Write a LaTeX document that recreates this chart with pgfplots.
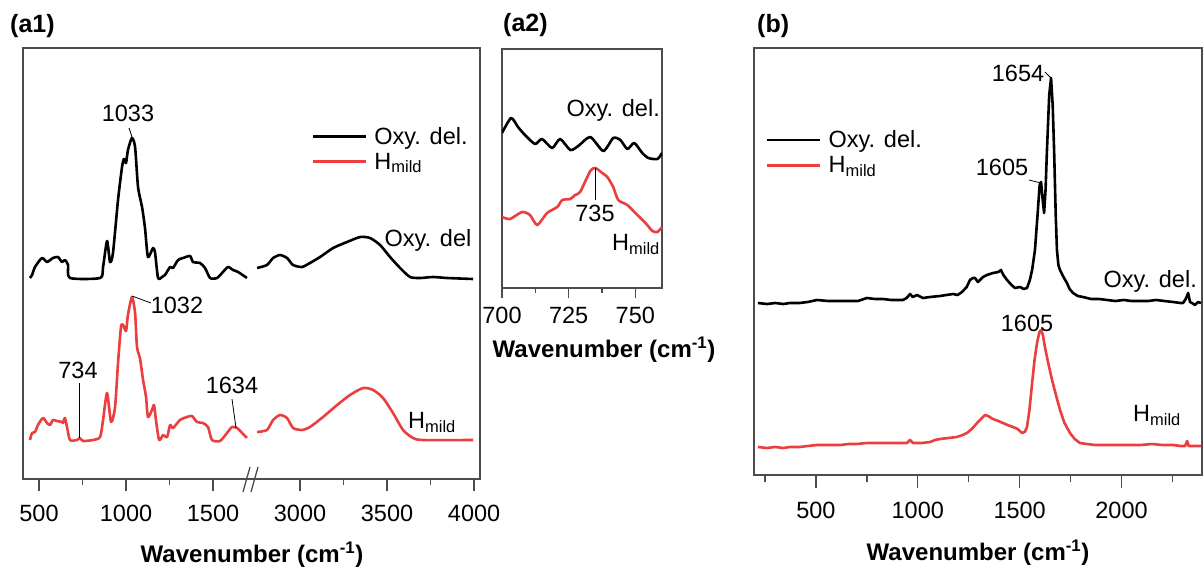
\documentclass[border=0pt]{standalone}
\usepackage{fontspec}
\setmainfont{Liberation Sans}
\usepackage{pgfplots}
\pgfplotsset{compat=1.18}
\definecolor{hred}{RGB}{236,62,62}
\newcommand\fs{\fontsize{23.5}{28}\selectfont}
\newcommand\fb{\fontsize{24}{28}\selectfont\bfseries}
\newcommand\hmild{H\textsubscript{mild}}
\newcommand\wnum{\fb Wavenumber (cm\textsuperscript{-1})}

\pgfplotsset{
  spec/.style={
    scale only axis,
    anchor=north west,
    ytick=\empty,
    axis line style={black!70, line width=1.3pt},
    tick style={black!70, line width=1.3pt},
    tick align=outside,
    xtick pos=bottom,
    major tick length=12pt,
    minor tick length=6pt,
    xticklabel style={font=\fs, inner sep=0pt, anchor=north},
    xticklabel shift=13.6pt,
    legend cell align=left,
    legend image code/.code={\draw[##1] (0pt,0pt) -- (53pt,0pt);},
    legend style={draw=none, fill=none, font=\fs, inner sep=0pt,
      outer sep=0pt, row sep=7pt, column sep=7pt,
      nodes={inner sep=0pt}},
  },
  oxy/.style={black, line width=2.6pt, line join=round},
  hm/.style={hred, line width=2.6pt, line join=round},
}

\begin{document}
\begin{tikzpicture}
\path[use as bounding box] (0,0) rectangle (1204pt,-572pt);

% (a1) broken axis: right segment drawn at x-1000
\begin{axis}[spec, at={(23pt,-48pt)}, width=457pt, height=431pt,
  xmin=408, xmax=3034, ymin=0, ymax=431,
  xtick={500,1000,1500,2000,2500,3000},
  xticklabels={500,1000,1500,3000,3500,4000},
  minor xtick={750,1250,2250,2750},
  legend style={at={(axis description cs:0.632,0.816)}, anchor=north west}]
\addplot[oxy, smooth, tension=0.4] coordinates {
 (448,201) (460,204) (477,212) (517,221) (546,217) (580,221) (609,222)
 (632,217) (649,219) (667,214) (678,201) (851,201) (868,212) (891,238)
 (908,217) (925,226) (954,279) (977,312) (988,320) (1000,316) (1011,329)
 (1034,341) (1052,332) (1069,292) (1092,272) (1109,251) (1126,222)
 (1155,231) (1167,226) (1184,201) (1207,202) (1224,204) (1253,212)
 (1270,211) (1299,219) (1328,221) (1368,223) (1385,217) (1425,216)
 (1454,211) (1483,201) (1523,201) (1557,207) (1586,212) (1615,209)
 (1644,207) (1695,201)
};
\addlegendentry{Oxy. del.}
\addplot[hm, smooth, tension=0.4] coordinates {
 (448,39) (460,46) (477,47) (494,54) (523,61) (546,56) (563,54) (580,59)
 (603,58) (632,57) (638,56) (649,61) (661,52) (678,39) (718,39) (735,41)
 (753,38) (810,39) (851,42) (868,59) (891,86) (914,57) (937,72) (954,116)
 (971,152) (983,154) (1000,148) (1011,164) (1034,182) (1052,166)
 (1063,132) (1080,121) (1098,99) (1115,82) (1126,62) (1149,69) (1161,74)
 (1172,59) (1190,39) (1213,44) (1236,42) (1253,54) (1270,51) (1310,59)
 (1350,62) (1379,63) (1408,57) (1442,56) (1471,52) (1494,39) (1540,38)
 (1580,46) (1609,52) (1638,51) (1667,46) (1695,41)
};
\addlegendentry{\hmild}
\addplot[oxy, smooth, tension=0.4, forget plot] table[x expr=\thisrow{x}-1000, y=y] {
x y
2753 211
2810 214
2845 221
2885 224
2925 221
2960 214
3011 212
3057 216
3115 222
3190 231
3270 237
3345 242
3402 241
3460 234
3517 222
3575 211
3632 202
3690 201
3764 202
3845 201
3994 200
};
\addplot[hm, smooth, tension=0.4, forget plot] table[x expr=\thisrow{x}-1000, y=y] {
x y
2753 47
2810 49
2845 59
2885 64
2925 61
2960 51
3011 49
3057 52
3132 62
3213 74
3287 84
3362 91
3420 89
3477 81
3534 66
3592 49
3649 41
3707 39
3994 39
};
\end{axis}

% (a2)
\begin{axis}[spec, at={(502pt,-49pt)}, width=160pt, height=239pt,
  xmin=700, xmax=760, ymin=0, ymax=239,
  xtick={700,725,750}, xticklabels={700,725,750},
  minor xtick={712.5,737.5},
  major tick length=10pt, minor tick length=5pt, xticklabel shift=8.6pt]
\addplot[oxy, smooth, tension=0.4] coordinates {
 (700.0,155) (703.4,170) (706.0,161) (708.6,153) (712.4,144) (715.0,149)
 (718.8,140) (721.8,149) (725.6,138) (728.6,142) (733.1,151) (738.0,137)
 (741.7,150) (744.4,148) (747.0,139) (749.6,145) (752.6,135) (754.9,130)
 (758.3,129) (760.0,135)
};
\addplot[hm, smooth, tension=0.4] coordinates {
 (700.0,71) (703.0,69) (707.5,76) (710.5,73) (713.2,63) (716.9,75)
 (720.7,81) (722.6,88) (725.6,89) (727.4,93) (729.3,96) (733.1,117)
 (735.0,120) (737.6,115) (739.5,111) (741.7,101) (743.6,88) (747.0,83)
 (750.0,75) (753.8,65) (756.4,57) (758.3,56) (760.0,61)
};
\end{axis}

% (b)
\begin{axis}[spec, at={(754pt,-48pt)}, width=448pt, height=427pt,
  xmin=196, xmax=2395, ymin=0, ymax=427,
  xtick={500,1000,1500,2000}, xticklabels={500,1000,1500,2000},
  minor xtick={250,750,1250,1750,2250},
  major tick length=13pt, minor tick length=7pt,
  legend style={at={(axis description cs:0.027,0.806)}, anchor=north west}]
\addplot[oxy] coordinates {
 (215,172) (260,171) (300,172) (340,171) (372,172) (420,172) (460,173)
 (505,175) (560,174) (618,174) (660,174) (706,174) (750,177) (790,176)
 (829,176) (870,175) (927,175) (945,177) (962,181) (975,178) (996,180)
 (1025,177) (1060,178) (1109,179) (1140,180) (1173,181) (1195,180)
 (1217,183) (1240,188) (1256,195) (1270,197) (1281,197) (1295,193)
 (1320,198) (1340,200) (1369,202) (1395,203) (1408,205) (1420,200)
 (1438,195) (1460,190) (1477,187) (1502,188) (1520,186) (1536,187)
 (1550,195) (1561,205) (1575,225) (1587,258) (1598,290) (1605,293)
 (1613,275) (1620,262) (1627,285) (1634,325) (1645,380) (1654,397)
 (1662,370) (1669,325) (1677,260) (1683,225) (1690,210) (1698,205)
 (1715,198) (1732,192) (1745,186) (1762,182) (1785,179) (1811,178)
 (1850,176) (1890,176) (1929,175) (1970,174) (2010,175) (2050,174)
 (2091,174) (2130,174) (2170,175) (2210,174) (2253,173) (2290,172)
 (2302,172) (2315,176) (2327,182) (2336,173) (2346,172) (2360,170)
 (2376,173) (2390,172)
};
\addlegendentry{Oxy. del.}
\addplot[hm] coordinates {
 (215,28) (260,27) (300,28) (340,27) (372,28) (420,28) (460,29) (505,30)
 (534,30) (580,30) (620,30) (660,31) (701,31) (750,32) (800,32) (850,32)
 (900,32) (947,32) (962,35) (976,32) (1020,32) (1060,33) (1085,35)
 (1109,36) (1150,37) (1192,38) (1220,40) (1241,42) (1265,46) (1291,52)
 (1310,56) (1330,60) (1345,59) (1369,56) (1395,54) (1418,52) (1440,50)
 (1467,48) (1490,46) (1512,42) (1525,43) (1536,48) (1548,65) (1561,92)
 (1573,115) (1585,132) (1597,143) (1605,145) (1614,140) (1624,128)
 (1640,112) (1659,95) (1678,80) (1698,65) (1720,52) (1747,42) (1770,36)
 (1796,32) (1830,31) (1870,30) (1929,30) (1980,30) (2040,30) (2091,30)
 (2150,31) (2200,30) (2253,30) (2290,29) (2312,29) (2322,34) (2330,29)
 (2360,29) (2376,29) (2390,29)
};
\addlegendentry{\hmild}
\end{axis}

% axis break marks
\draw[black!70, line width=1.3pt] (243pt,-492pt) -- (250pt,-467pt);
\draw[black!70, line width=1.3pt] (251pt,-492pt) -- (258pt,-467pt);

% panel labels and axis titles
\begin{scope}[every node/.style={inner sep=0pt}]
\node[anchor=west] at (10pt,-26.5pt) {\fontsize{25}{28}\selectfont\bfseries (a1)};
\node[anchor=west] at (503pt,-25.5pt) {\fontsize{25}{28}\selectfont\bfseries (a2)};
\node[anchor=west] at (757pt,-26pt) {\fontsize{25}{28}\selectfont\bfseries (b)};
\node at (252pt,-555pt) {\wnum};
\node at (604pt,-350pt) {\wnum};
\node at (978pt,-553pt) {\wnum};

% annotations (a1)
\node[anchor=base] at (128pt,-121.4pt) {\fs 1033};
\draw[line width=0.8pt] (129pt,-128pt) -- (132pt,-137pt);
\node[anchor=base] at (428pt,-246.4pt) {\fs Oxy. del};
\node[anchor=base] at (177pt,-313.4pt) {\fs 1032};
\draw[line width=0.8pt] (132pt,-296pt) -- (151pt,-303pt);
\node[anchor=base] at (78pt,-378.4pt) {\fs 734};
\draw[line width=0.8pt] (79pt,-383pt) -- (79pt,-438pt);
\node[anchor=base] at (232pt,-393.4pt) {\fs 1634};
\draw[line width=0.8pt] (232pt,-399pt) -- (236pt,-428pt);
\node[anchor=base west] at (408pt,-428.4pt) {\fs\hmild};

% annotations (a2)
\node[anchor=base east] at (660pt,-116.4pt) {\fs Oxy. del.};
\node[anchor=base] at (595pt,-221.4pt) {\fs 735};
\draw[line width=0.8pt] (595pt,-168pt) -- (595pt,-200pt);
\node[anchor=base east] at (660pt,-250.4pt) {\fs\hmild};

% annotations (b)
\node[anchor=base] at (1018pt,-81.4pt) {\fs 1654};
\draw[line width=0.8pt] (1045pt,-72pt) -- (1051pt,-78pt);
\node[anchor=base] at (1002pt,-175.4pt) {\fs 1605};
\draw[line width=0.8pt] (1029pt,-180pt) -- (1041pt,-183pt);
\node[anchor=base east] at (1197pt,-287.4pt) {\fs Oxy. del.};
\node[anchor=base] at (1027pt,-331.4pt) {\fs 1605};
\node[anchor=base west] at (1133pt,-421.4pt) {\fs\hmild};
\end{scope}
\end{tikzpicture}
\end{document}
